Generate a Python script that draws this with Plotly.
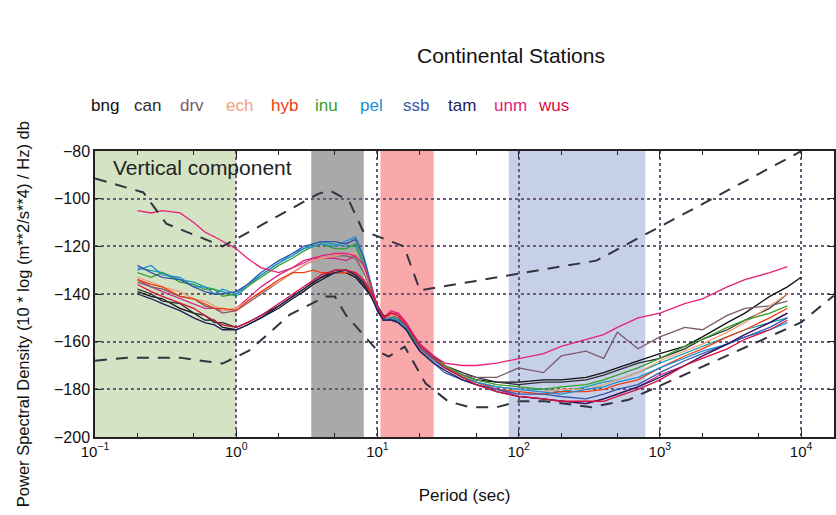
import plotly.graph_objects as go

# ---------------- data ----------------
period = [0.2, 0.25, 0.3, 0.4, 0.5, 0.6, 0.7, 0.8, 1.0, 1.2, 1.5, 2.0, 2.5, 3.0, 3.5, 4.0,
          5.0, 6.0, 7.0, 8.0, 9.0, 10, 11, 12.5, 14, 16, 18, 20, 25, 30, 40, 50,
          70, 100, 150, 200, 300, 400, 500, 700, 1000, 1500, 2000, 3000, 4000, 6000, 8000, 10000]

bng = [-139, -141, -142, -146, -148, -151, -151, -154, -155, -153, -150, -146, -142, -139, -136, -134,
       -131, -131, -133, -137, -141, -146, -150, -151, -151, -154, -158, -162, -167, -170, -174, -176,
       -177, -177, -176, -176, -175, -173, -171, -168, -165, -162, -158, -152, -148, -141, -137, -133]
can = [-138, -140, -143, -144, -148, -149, -152, -152, -154, -152, -149, -145, -141, -138, -135, -133,
       -130, -130, -132, -135, -140, -145, -149, -150, -151, -154, -158, -162, -166, -170, -173, -175,
       -177, -178, -177, -177, -176, -174, -172, -169, -167, -163, -159, -155, -151, -146, -140, None]
drv = [-135, -137, -138, -141, -142, -145, -146, -148, -147, -144, -140, -135, -131, -128, -126, -125,
       -124, -124, -125, -131, -139, -147, -150, -149, -150, -154, -159, -163, -168, -171, -174, -175,
       -175, -171, -173, -166, -164, -167, -156, -163, -158, -154, -155, -149, -146, -145, -143, None]
ech = [-133, -135, -137, -139, -142, -143, -145, -147, -146, -143, -139, -135, -131, -128, -126, -125,
       -124, -123, -123, -129, -138, -147, -151, -149, -149, -153, -158, -162, -167, -170, -174, -177,
       -179, -180, -181, -180, -180, -178, -176, -173, -168, -164, -161, -156, -152, -145, -140, None]
hyb = [-134, -136, -137, -141, -142, -144, -146, -146, -147, -143, -139, -134, -131, -131, -130, -131,
       -131, -131, -131, -134, -140, -147, -150, -148, -149, -153, -158, -162, -167, -170, -175, -177,
       -180, -181, -182, -181, -181, -180, -178, -176, -171, -166, -163, -158, -155, -150, -146, None]
inu = [-131, -133, -131, -135, -136, -138, -138, -141, -140, -137, -133, -128, -125, -122, -120, -119,
       -121, -121, -119, -127, -137, -147, -151, -150, -151, -154, -159, -162, -167, -170, -174, -176,
       -178, -179, -180, -179, -178, -176, -174, -171, -167, -162, -159, -154, -151, -148, -145, None]
pel = [-130, -128, -132, -133, -137, -137, -140, -138, -140, -136, -132, -127, -124, -121, -120, -119,
       -120, -118, -116, -124, -135, -146, -151, -150, -151, -154, -158, -162, -168, -171, -175, -177,
       -179, -180, -181, -182, -180, -179, -177, -175, -171, -167, -164, -161, -158, -155, -152, None]
ssb = [-128, -131, -133, -134, -137, -139, -140, -140, -139, -136, -131, -126, -123, -120, -119, -118,
       -118, -119, -117, -125, -136, -146, -151, -151, -152, -155, -160, -164, -169, -173, -176, -178,
       -180, -182, -182, -183, -184, -182, -180, -178, -173, -168, -165, -161, -158, -154, -150, None]
tam = [-140, -142, -144, -147, -150, -152, -153, -155, -155, -153, -150, -145, -141, -138, -135, -133,
       -131, -130, -132, -136, -141, -147, -151, -151, -152, -155, -160, -164, -169, -172, -176, -178,
       -181, -183, -184, -185, -186, -184, -182, -179, -175, -170, -166, -161, -157, -152, -148, None]
unm = [-105, -106, -105, -106, -110, -114, -116, -118, -121, -125, -129, -131, -129, -126, -125, -124,
       -123, -123, -124, -128, -136, -145, -150, -147, -148, -152, -157, -161, -166, -169, -170, -170,
       -169, -167, -165, -162, -159, -157, -154, -150, -148, -144, -142, -137, -134, -131, -128.5, None]
wus = [-136, -139, -141, -144, -146, -149, -151, -153, -154, -152, -149, -144, -140, -137, -134, -132,
       -130, -130, -131, -134, -139, -145, -150, -148, -149, -153, -158, -162, -167, -171, -175, -178,
       -181, -183, -184, -185, -185, -185, -183, -180, -176, -170, -167, -163, -159, -155, -151, None]
teal_extra = [-129, -130, -131, -134, -135, -137, -138, -139, -141, -137, -132, -127, -123, -121, -119, -118,
              -119, -120, -120, -128, -138, -147, -151, -150, -150, -153, -158, -162, -167, -171, -175, -177,
              -179, -180, -180, -181, -179, -177, -176, -173, -169, -165, -162, -158, -155, -152, -150, None]
magenta_extra = [-134, -137, -139, -142, -144, -146, -146, -147, -146, -142, -137, -132, -129, -127, -125, -125,
                 -125, -126, -124, -128, -137, -146, -151, -148, -148, -152, -157, -161, -166, -170, -174, -177,
                 -180, -183, -184, -185, -186, -184, -182, -179, -174, -170, -166, -161, -157, -152, -148, None]

stations = ["bng", "can", "drv", "ech", "hyb", "inu", "pel", "ssb", "tam", "unm", "wus"]
station_colors = ["#111111", "#2e2e2e", "#7a5a6a", "#f2a07a", "#f03c12", "#36a02a",
                  "#1a8fd6", "#3a56a8", "#1c1c5e", "#e8207a", "#d81040"]

# Peterson noise model curves
nhnm_period = [0.1, 0.15, 0.22, 0.25, 0.3, 0.32, 0.5, 0.8, 1.0, 2.0, 3.8, 4.6, 5.5, 6.3, 7.9, 10, 12,
               15.4, 17, 20, 50, 100, 200, 354.8, 500, 1000, 2000, 5000, 10000]
nhnm_db = [-91.5, -94.5, -97.4, -101.9, -108.2, -110.5, -115.1, -120.0, -116.9, -107.1, -98.0, -96.5,
           -99.1, -101.0, -113.5, -115.8, -117.6, -120.0, -127.0, -138.5, -134.5, -131.5, -128.5, -126.0,
           -121.3, -111.8, -102.3, -89.7, -80.1]
nlnm_period = [0.1, 0.17, 0.3, 0.4, 0.6, 0.8, 1.0, 1.24, 1.8, 2.4, 3.4, 4.3, 5.0, 6.0, 8.0, 10, 12,
               15.6, 21.9, 31.6, 45, 70, 101, 154, 250, 328, 600, 1000, 2000, 5000, 10000, 17000]
nlnm_db = [-168.0, -166.7, -166.7, -166.7, -168.2, -169.2, -166.4, -163.7, -155.2, -148.6, -144.1,
           -141.1, -141.1, -149.0, -157.3, -163.8, -166.3, -162.1, -177.5, -185.0, -187.5, -187.5,
           -185.0, -185.0, -186.6, -187.5, -184.4, -178.5, -170.5, -159.9, -151.9, -140.7]

bands = [(0.1, 1.0, "#d3e3c4"), (3.4, 8.0, "#a9a9a9"), (10.5, 25.0, "#f9a9a9"), (85, 790, "#c6d1e9")]

x_ticks = [0.1, 1, 10, 100, 1000, 10000]
x_tick_text = ["10<sup>−1</sup>", "10<sup>0</sup>", "10<sup>1</sup>", "10<sup>2</sup>",
               "10<sup>3</sup>", "10<sup>4</sup>"]
y_ticks = [-200, -180, -160, -140, -120, -100, -80]

# ---------------- figure ----------------
FONT = "Liberation Sans, Arial, Helvetica, sans-serif"
fig = go.Figure()

series = {"bng": bng, "can": can, "drv": drv, "ech": ech, "hyb": hyb, "inu": inu,
          "pel": pel, "ssb": ssb, "tam": tam, "unm": unm, "wus": wus}
extras = [(teal_extra, "#1aa0a8"), (magenta_extra, "#d42a8a")]

for vals, col in extras:
    fig.add_trace(go.Scatter(x=period, y=vals, mode="lines", line=dict(color=col, width=1.3),
                             showlegend=False, hoverinfo="skip"))
for name, col in zip(stations, station_colors):
    fig.add_trace(go.Scatter(x=period, y=series[name], mode="lines", name=name,
                             line=dict(color=col, width=1.3), showlegend=False))

for px, py in [(nhnm_period, nhnm_db), (nlnm_period, nlnm_db)]:
    fig.add_trace(go.Scatter(x=px, y=py, mode="lines",
                             line=dict(color="#333340", width=2, dash="12px,9px"),
                             showlegend=False, hoverinfo="skip"))

for x0, x1, col in bands:
    fig.add_shape(type="rect", xref="x", yref="paper", x0=x0, x1=x1, y0=0, y1=1,
                  fillcolor=col, line=dict(width=0), layer="below")

# plot area geometry in pixels
L, R, T, B = 95, 836, 151, 437
W, H = R - L, B - T

def px_x(p):
    return (p - L) / W

def px_y(p):
    return (B - p) / H

fig.add_annotation(x=px_x(512), y=px_y(55), xref="paper", yref="paper", text="Continental Stations",
                   xanchor="center", yanchor="middle",
                   showarrow=False, font=dict(size=21, color="#111111", family=FONT))
label_x = [105, 148, 192, 240, 285, 327, 372, 417, 463, 512, 555]
for name, col, lx in zip(stations, station_colors, label_x):
    fig.add_annotation(x=px_x(lx), y=px_y(105), xref="paper", yref="paper", text=name,
                       xanchor="center", yanchor="middle",
                       showarrow=False, font=dict(size=17, color=col, family=FONT))

fig.add_annotation(x=px_x(111), y=px_y(167), xref="paper", yref="paper", text="Vertical component",
                   xanchor="left", yanchor="middle",
                   showarrow=False, font=dict(size=21, color="#222222", family=FONT))

fig.add_annotation(x=px_x(23), y=px_y(314), xref="paper", yref="paper",
                   text="Power Spectral Density (10 * log (m**2/s**4) / Hz) db", textangle=-90,
                   xanchor="center", yanchor="middle",
                   showarrow=False, font=dict(size=16.5, color="#111111", family=FONT))

fig.update_layout(
    width=836, height=515,
    margin=dict(l=L, r=836 - R, t=T, b=515 - B),
    paper_bgcolor="white", plot_bgcolor="white",
    font=dict(family=FONT, size=15, color="#111111"),
    xaxis=dict(type="log", range=[-1, -1 + 5 * W / 708], tickvals=x_ticks, ticktext=x_tick_text,
               showgrid=True, gridcolor="#6a5a7a", griddash="dot", gridwidth=1.5,
               showline=True, linecolor="#222", linewidth=1.5, mirror="ticks",
               ticks="inside", ticklen=7, tickcolor="#222",
               minor=dict(ticks="inside", ticklen=4, tickcolor="#222", showgrid=False),
               title=dict(text="Period (sec)", font=dict(size=17), standoff=30),
               tickfont=dict(size=15), zeroline=False),
    yaxis=dict(range=[-200, -80], tickvals=y_ticks, showgrid=True, gridcolor="#6a5a7a",
               griddash="dot", gridwidth=1.5, showline=True, linecolor="#222", linewidth=1.5,
               mirror="ticks", ticks="inside", ticklen=6, tickcolor="#222",
               tickfont=dict(size=16), zeroline=False),
)

fig.write_html("out.html")
